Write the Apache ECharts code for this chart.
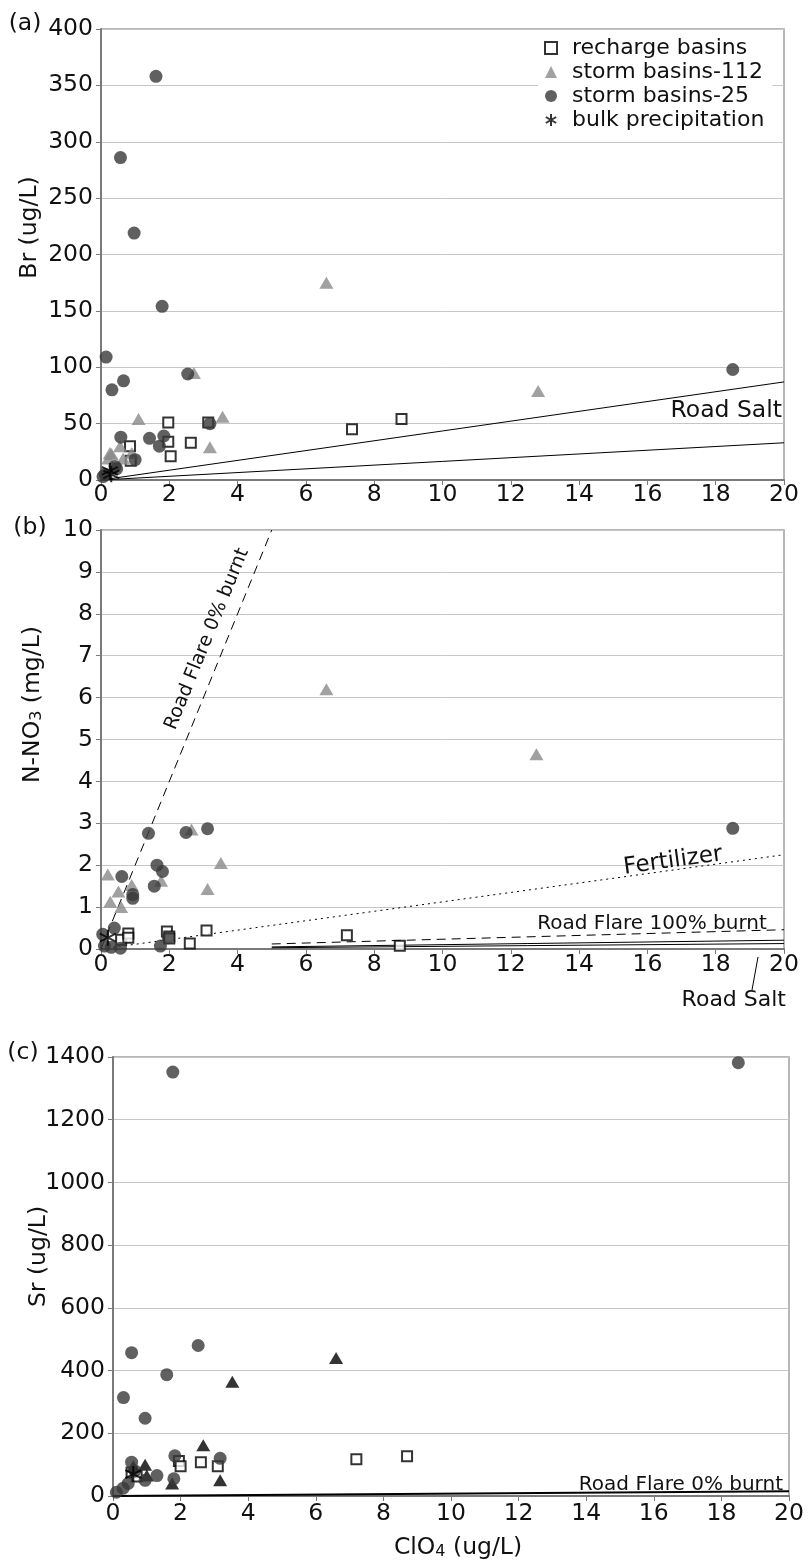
<!DOCTYPE html>
<html>
<head>
<meta charset="utf-8">
<script src="https://cdn.jsdelivr.net/npm/echarts@6/dist/echarts.min.js"></script>
<style>
html, body { margin: 0; padding: 0; background: #fff; }
#chart { width: 809px; height: 1561px; }
</style>
</head>
<body>
<div id="chart"></div>
<script>
// axis ranges [min, max, interval]
var xRange = [0, 20, 2];
var aRange = [0, 400, 50];
var bRange = [0, 10, 1];
var cRange = [0, 1400, 200];

var names = ['recharge basins', 'storm basins-112', 'storm basins-25', 'bulk precipitation'];

// (a) Br vs ClO4
var aRecharge = [[0.85,30],[0.87,17],[1.97,51],[1.97,34],[2.04,21],[2.63,33],[3.14,51],[7.35,45],[8.8,54]];
var aStorm112 = [[0.21,19],[0.26,24],[0.31,23],[0.56,30],[0.65,19],[0.9,24],[1.1,54],[2.72,95],[3.19,29],[3.56,56],[6.6,175],[12.8,79]];
var aStorm25 = [[0.06,3],[0.12,5],[0.41,12],[0.46,10],[1.0,18],[0.15,109],[0.32,80],[0.66,88],[0.57,286],[0.97,219],
                [1.61,358],[1.79,154],[2.54,94],[0.58,38],[1.42,37],[1.71,30],[1.84,39],[3.19,50],[18.5,98]];
var aBulk = [[0.26,8],[0.3,5]];
var aSaltHi = [[0,0],[20,87]];
var aSaltLo = [[0,0],[20,33]];

// (b) N-NO3 vs ClO4
var bRecharge = [[0.59,0.22],[0.8,0.37],[0.8,0.27],[1.93,0.42],[2.0,0.3],[2.0,0.25],[2.6,0.13],[3.09,0.44],[7.2,0.33],[8.75,0.08]];
var bStorm112 = [[0.2,1.78],[0.27,1.13],[0.51,1.37],[0.59,1.0],[0.9,1.53],[1.76,1.63],[2.65,2.85],[3.12,1.43],[3.51,2.05],[6.6,6.2],[12.75,4.65]];
var bStorm25 = [[0.05,0.35],[0.1,0.07],[0.3,0.04],[0.39,0.5],[0.57,0.02],[0.61,1.73],[0.93,1.3],[0.93,1.21],[1.39,2.76],
                [1.56,1.5],[1.64,2.0],[1.8,1.85],[1.74,0.07],[1.97,0.27],[2.49,2.78],[3.12,2.87],[18.5,2.88]];
var bBulk = [[0.2,0.27]];
var bFlare0 = [[0,0],[5,10]];
var bFert = [[0,0],[20,2.25]];
var bFlare100 = [[5,0.12],[20,0.46]];
var bSaltHi = [[5,0.05],[20,0.21]];
var bSaltLo = [[5,0.03],[20,0.13]];

// (c) Sr vs ClO4
var cRecharge = [[0.55,75],[0.7,62],[1.95,112],[2.0,95],[2.6,108],[3.1,95],[7.2,117],[8.7,127]];
var cStorm112 = [[0.6,95],[0.95,100],[1.0,65],[1.75,40],[2.67,162],[3.17,50],[3.53,364],[6.6,440]];
var cStorm25 = [[0.1,12],[0.3,25],[0.45,40],[0.55,108],[0.65,80],[0.95,50],[1.3,65],[1.8,55],[1.83,128],[3.17,120],
                [0.31,314],[0.95,248],[0.55,457],[1.59,387],[2.52,480],[1.77,1352],[18.5,1382]];
var cBulk = [[0.6,70]];
var cFlare0 = [[0,0],[20,15]];

var FONT = 'DejaVu Sans';
var star = 'path://M5,0L5,10M0.7,2.5L9.3,7.5M0.7,7.5L9.3,2.5';

var chart = document.getElementById('chart');
var myChart = echarts.init(chart);

function pts(name, data, idx, kind, dark) {
    var s = { name: name, type: 'scatter', xAxisIndex: idx, yAxisIndex: idx, data: data, z: 5, silent: true };
    if (kind == 'sq') {
        s.symbol = 'rect'; s.symbolSize = 10;
        s.itemStyle = { color: '#fff', borderColor: '#000', borderWidth: 2 };
    } else if (kind == 'tri') {
        s.symbol = 'triangle'; s.symbolSize = [14, 12];
        s.itemStyle = { color: dark ? '#000' : '#8a8a8a' };
    } else if (kind == 'dot') {
        s.symbol = 'circle'; s.symbolSize = 13;
        s.itemStyle = { color: '#383838' };
    } else {
        s.symbol = star; s.symbolSize = 16;
        s.itemStyle = { color: '#000', borderColor: '#000', borderWidth: 2 };
    }
    return s;
}

function seg(data, idx, type, width) {
    return {
        type: 'line', xAxisIndex: idx, yAxisIndex: idx, data: data, symbol: 'none', silent: true, z: 3,
        lineStyle: { color: '#000', width: width || 1, type: type || 'solid' }
    };
}

function xAx(idx, margin) {
    return {
        gridIndex: idx, type: 'value', min: xRange[0], max: xRange[1], interval: xRange[2],
        axisLine: { show: true, onZero: false, lineStyle: { color: '#7a7a7a', width: 2 } },
        axisTick: { show: true, length: 5, lineStyle: { color: '#7a7a7a' } },
        axisLabel: { fontFamily: FONT, fontSize: 23.5, color: '#111', margin: margin },
        splitLine: { show: false }
    };
}

function yAx(idx, range, name, gap, shift) {
    return {
        gridIndex: idx, type: 'value', min: range[0], max: range[1], interval: range[2],
        name: name, nameLocation: 'middle', nameGap: gap, nameMoveOverlap: false,
        nameTextStyle: {
            fontFamily: FONT, fontSize: 23.5, color: '#111', padding: [0, 0, 0, shift],
            rich: {
                n: { fontFamily: FONT, fontSize: 23.5, color: '#111', lineHeight: 32, verticalAlign: 'bottom' },
                sub: { fontFamily: FONT, fontSize: 16, color: '#111', lineHeight: 16, verticalAlign: 'bottom' }
            }
        },
        axisLine: { show: true, lineStyle: { color: '#7a7a7a', width: 2 } },
        axisTick: { show: true, length: 5, lineStyle: { color: '#7a7a7a' } },
        axisLabel: {
            fontFamily: FONT, fontSize: 23.5, color: '#111', margin: 8, padding: [0, 0, 10, 0],
            formatter: function (v) { return String(v); }
        },
        splitLine: { show: true, lineStyle: { color: '#c6c6c6', width: 1 } }
    };
}

function txt(s, x, y, size, align, rot) {
    return {
        type: 'text', x: x, y: y, rotation: (rot || 0) * Math.PI / 180, z: 10, silent: true,
        style: { text: s, fontFamily: FONT, fontSize: size, fill: '#111', align: align || 'center', verticalAlign: 'middle' }
    };
}

var xc = xAx(2, 6);
xc.name = '{n|ClO}{sub|4}{n| (ug/L)}';
xc.nameLocation = 'middle';
xc.nameGap = 32;
xc.nameMoveOverlap = false;
xc.nameTextStyle = {
    padding: [0, 0, 0, 14],
    rich: {
        n: { fontFamily: FONT, fontSize: 23.5, color: '#111', lineHeight: 32, verticalAlign: 'bottom' },
        sub: { fontFamily: FONT, fontSize: 16, color: '#111', lineHeight: 16, verticalAlign: 'bottom' }
    }
};

option = {
    animation: false,
    backgroundColor: '#fff',
    grid: [
        { left: 101, top: 29, width: 683, height: 451, show: true, borderColor: '#a0a0a0', borderWidth: 1.5 },
        { left: 101, top: 530, width: 683, height: 419, show: true, borderColor: '#a0a0a0', borderWidth: 1.5 },
        { left: 113, top: 1057, width: 676, height: 447, show: true, borderColor: '#a0a0a0', borderWidth: 1.5 }
    ],
    legend: {
        data: names,
        orient: 'vertical',
        left: 538, top: 34,
        backgroundColor: '#fff',
        padding: [3, 8, 3, 6],
        itemWidth: 12, itemHeight: 12, itemGap: 2,
        selectedMode: false,
        textStyle: { fontFamily: FONT, fontSize: 22, color: '#111', lineHeight: 22, padding: [0, 0, 0, 10] }
    },
    xAxis: [xAx(0, 3), xAx(1, 4), xc],
    yAxis: [
        yAx(0, aRange, '{n|Br (ug/L)}', 59, 54),
        yAx(1, bRange, '{n|N-NO}{sub|3}{n| (mg/L)}', 56, 70),
        yAx(2, cRange, '{n|Sr (ug/L)}', 62, 40)
    ],
    graphic: [
        txt('(a)', 25, 24, 23.5),
        txt('(b)', 30, 528, 23.5),
        txt('(c)', 23, 1053, 23.5),
        txt('Road Salt', 782, 411, 23.5, 'right'),
        txt('Road Flare 0% burnt', 207, 639, 19, 'center', 67.8),
        txt('Fertilizer', 673, 861, 23, 'center', 7.8),
        txt('Road Flare 100% burnt', 652, 924, 20),
        txt('Road Salt', 786, 1000, 22, 'right'),
        { type: 'line', z: 10, silent: true, shape: { x1: 758, y1: 957, x2: 752, y2: 990 }, style: { stroke: '#000', lineWidth: 1 } },
        txt('Road Flare 0% burnt', 783, 1485, 20, 'right')
    ],
    series: [
        seg(aSaltHi, 0), seg(aSaltLo, 0),
        pts(names[0], aRecharge, 0, 'sq'),
        pts(names[1], aStorm112, 0, 'tri'),
        pts(names[2], aStorm25, 0, 'dot'),
        pts(names[3], aBulk, 0, 'star'),

        seg(bFlare0, 1, [9, 6]), seg(bFert, 1, [2, 4]), seg(bFlare100, 1, [9, 6]),
        seg(bSaltHi, 1), seg(bSaltLo, 1),
        pts(names[0], bRecharge, 1, 'sq'),
        pts(names[1], bStorm112, 1, 'tri'),
        pts(names[2], bStorm25, 1, 'dot'),
        pts(names[3], bBulk, 1, 'star'),

        seg(cFlare0, 2, 'solid', 2),
        pts(names[0], cRecharge, 2, 'sq'),
        pts(names[1], cStorm112, 2, 'tri', true),
        pts(names[2], cStorm25, 2, 'dot'),
        pts(names[3], cBulk, 2, 'star')
    ]
};

myChart.setOption(option);
</script>
</body>
</html>
